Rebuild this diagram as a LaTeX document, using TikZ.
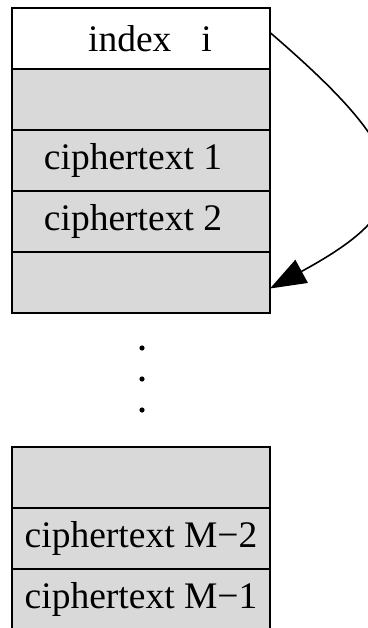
\documentclass[tikz,border=0pt]{standalone}
\usepackage{fontspec}
\setmainfont{Liberation Serif}
\usetikzlibrary{positioning,arrows.meta}

\definecolor{cellgray}{RGB}{217,217,217}
\tikzstyle{cell} = [rectangle, minimum width=258pt, minimum height=61pt, inner sep=0pt, outer sep=0pt, text centered, draw=black, line width=1.6pt, fill=cellgray, font=\fontsize{37.5}{41}\selectfont]
\tikzstyle{head} = [cell, fill=white]
\tikzstyle{arrow} = [line width=1.6pt, -{Triangle[length=36pt, width=26pt]}]

\begin{document}
\begin{tikzpicture}[x=1pt, y=1pt]
\useasboundingbox (0,0) rectangle (367,-628);

%% Upper block
\node (idx_top) [head] at (141,-38.5) {\hspace*{18pt}index\hspace{0.8em}i};
\node (emp_top) [cell, below=0pt of idx_top] {};
\node (ct1_top) [cell, below=0pt of emp_top] {ciphertext 1\hspace*{16pt}};
\node (ct2_top) [cell, below=0pt of ct1_top] {ciphertext 2\hspace*{16pt}};
\node (end_top) [cell, below=0pt of ct2_top] {};

%% Dots
\fill (142,-348) circle (2.6pt);
\fill (142,-379) circle (2.6pt);
\fill (142,-410) circle (2.6pt);

%% Lower block
\node (emp_bot) [cell] at (141,-477.5) {};
\node (ctm2_bot) [cell, below=0pt of emp_bot] {ciphertext M\char"2212 2};
\node (ctm1_bot) [cell, below=0pt of ctm2_bot] {ciphertext M\char"2212 1};

%% Arrow
\draw [arrow] ([yshift=6pt]idx_top.east) .. controls (418,-160) and (424,-205) .. ([yshift=-6pt]end_top.east);
\end{tikzpicture}
\end{document}
